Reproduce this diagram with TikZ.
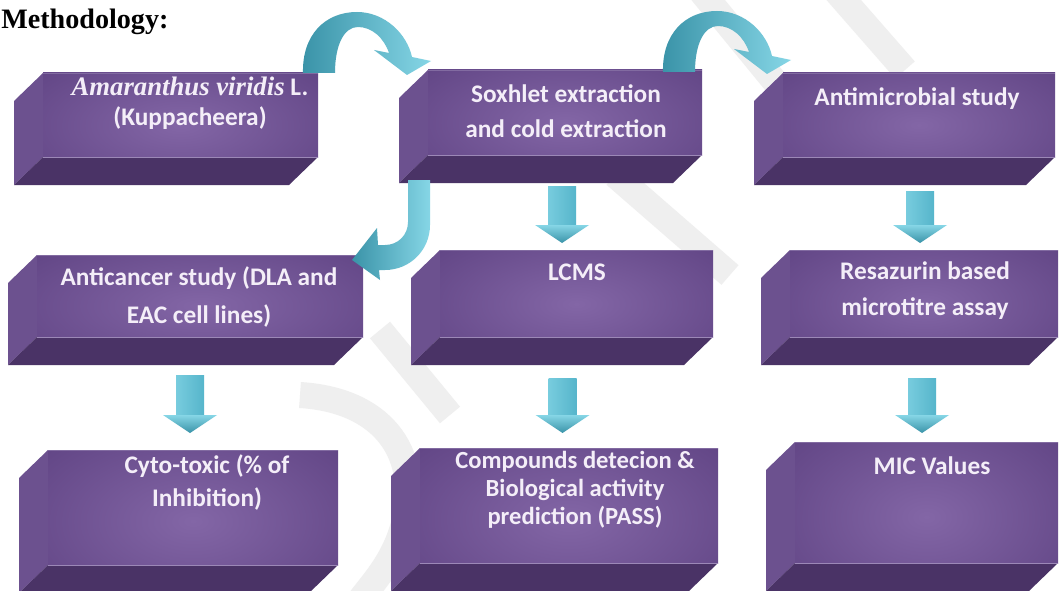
\documentclass[tikz,border=0pt]{standalone}
\usepackage{fontspec}
\setmainfont{Carlito}
\newfontfamily\serifface{Liberation Serif}
\usetikzlibrary{calc,fit}

% palette
\definecolor{facemid}{HTML}{5C4080}
\definecolor{facehi}{HTML}{8366A6}
\definecolor{leftside}{HTML}{6C518F}
\definecolor{bottomside}{HTML}{4A3366}
\definecolor{rimline}{HTML}{9C88B7}
\definecolor{arrlight}{HTML}{86D6E6}
\definecolor{arrmid}{HTML}{56B5CB}
\definecolor{arrdark}{HTML}{3A93A8}
\definecolor{labelwhite}{HTML}{F4EEF8}
\definecolor{markgrey}{HTML}{EFEFEF}

\tikzset{
  slabtext/.style={anchor=north, align=center, inner sep=0pt, text=labelwhite,
    font=\bfseries\fontsize{18}{#1}\selectfont},
  slabtext/.default=25,
  facefit/.style={inner sep=0pt, outer sep=0pt},
  arrowfill/.style={left color=arrdark, right color=arrlight},
  markband/.style={draw=markgrey, line width=0.65cm, line cap=butt},
}

% a bevelled slab: name, left, top, right, bottom of the front face
\newcommand\slab[5]{%
  \fill[leftside] (#2,#3) -- ++(-29,28) -- (#2-29,#5+28) -- (#2,#5) -- cycle;
  \fill[bottomside] (#2,#5) -- (#4,#5) -- (#4-29,#5+28) -- (#2-29,#5+28) -- cycle;
  \fill[facemid] (#2,#3) rectangle (#4,#5);
  \begin{scope}
    \clip (#2,#3) rectangle (#4,#5);
    \shade[inner color=facehi, outer color=facemid]
      ({(#2+#4)/2},{#3+0.62*(#5-#3)}) ellipse [x radius={0.8*(#4-#2)}, y radius={1.15*(#5-#3)}];
  \end{scope}
  \draw[rimline, line width=0.7pt] (#2,#5) -- (#4,#5);
  \draw[rimline!60!facemid, line width=0.5pt] (#2,#3) -- (#4,#3);
  \node[facefit, fit={(#2,#3) (#4,#5)}] (#1) {};
}

% straight block arrow pointing down: top coordinate, tip coordinate
\newcommand\droparrow[2]{%
  \shade[left color=arrlight!70!arrmid, middle color=arrlight, right color=arrmid]
    ($(#1)+(-14,0)$) rectangle ($(#2)+(14,-17)$);
  \shade[top color=arrlight, bottom color=arrdark]
    ($(#2)+(-27,-18)$) -- ($(#2)+(27,-18)$) -- (#2) -- cycle;
}

% arched block arrow hopping over to the next slab
\newcommand\hoparrow[1]{%
  \begin{scope}[shift={(#1)}]
    \shade[arrowfill]
      (303,73) .. controls (302,35) and (325,12) .. (357,12)
      .. controls (385,12) and (407,34) .. (412,57)
      -- (431,61) -- (407,75) -- (374,50) -- (389,53)
      .. controls (384,38) and (372,27) .. (358,27)
      .. controls (344,27) and (335,45) .. (335,73) -- cycle;
  \end{scope}
}

\begin{document}
\begin{tikzpicture}[x=0.025cm, y=-0.025cm]
\useasboundingbox (0,0) rectangle (1060,591);
\clip (0,0) rectangle (1060,591);
\fill[white] (0,0) rectangle (1060,591);

% faint watermark strokes behind the chart
\draw[markband] (700,-10) -- (790,100);
\draw[markband] (835,-10) -- (905,70);
\draw[markband] (615,175) -- (730,275);
\draw[markband] (380,330) -- (450,415);
\draw[markband] (300,395) .. controls (380,400) and (420,450) .. (405,520)
  .. controls (395,560) and (375,580) .. (360,600);

\node[anchor=base west, inner sep=0pt, font=\serifface\bfseries\fontsize{20}{24}\selectfont]
  (title) at (1,29) {Methodology:};

% slabs
\slab{ama}{43}{73}{318}{157}
\slab{sox}{428}{70}{702}{155}
\slab{anti}{783}{73}{1055}{157}
\slab{canc}{37}{255}{363}{337}
\slab{lcms}{440}{250}{713}{337}
\slab{resa}{790}{250}{1058}{337}
\slab{cyto}{48}{450}{338}{565}
\slab{comp}{420}{448}{718}{563}
\slab{mic}{795}{442}{1058}{563}

% labels
\node[slabtext=21.3] (ama-t) at (190,77)
  {{\serifface\itshape\bfseries\fontsize{19}{21.3}\selectfont Amaranthus viridis} L.\\(Kuppacheera)};
\node[slabtext=24.9] (sox-t) at (566,84) {Soxhlet extraction\\and cold extraction};
\node[slabtext] (anti-t) at (917,87) {Antimicrobial study};
\node[slabtext=27] (canc-t) at (199,266) {Anticancer study (DLA and\\EAC cell lines)};
\node[slabtext] (lcms-t) at (577,264) {LCMS};
\node[slabtext=25.6] (resa-t) at (925,261) {Resazurin based\\microtitre assay};
\node[slabtext=23.5] (cyto-t) at (207,454) {Cyto-toxic (\% of\\Inhibition)};
\node[slabtext=20, font=\bfseries\fontsize{17.5}{20}\selectfont] (comp-t) at (575,451)
  {Compounds detecion \&\\Biological activity\\prediction (PASS)};
\node[slabtext] (mic-t) at (932,456) {MIC Values};

% arched arrows along the top row
\hoparrow{0,0}
\hoparrow{360,-1}

% hooked arrow from the extraction slab to the anticancer slab
\coordinate (hookstart) at ($(sox.south west)+(2,25)$);
\shade[arrowfill]
  (hookstart) -- (430,225) .. controls (430,250) and (410,270) .. (385,270)
  -- (379,270) -- (380,280) -- (352,260) -- (377,228) -- (378,245) -- (385,245)
  .. controls (398,245) and (408,235) .. (408,222) -- (408,180) -- cycle;

% straight arrows down the columns
\coordinate (d1top) at ($(sox.south)+(-3,31)$);
\coordinate (d1tip) at ($(d1top |- lcms.north)+(0,-7)$);
\droparrow{d1top}{d1tip}
\coordinate (d2top) at ($(lcms.south)+(-14,41)$);
\coordinate (d2tip) at ($(d2top |- comp.north)+(0,-15)$);
\droparrow{d2top}{d2tip}
\coordinate (d3top) at ($(canc.south)+(-10,38)$);
\coordinate (d3tip) at ($(d3top |- cyto.north)+(0,-17)$);
\droparrow{d3top}{d3tip}
\coordinate (d4top) at ($(anti.south)+(1,34)$);
\coordinate (d4tip) at ($(d4top |- resa.north)+(0,-7)$);
\droparrow{d4top}{d4tip}
\coordinate (d5top) at ($(resa.south)+(-2,41)$);
\coordinate (d5tip) at ($(d5top |- mic.north)+(0,-9)$);
\droparrow{d5top}{d5tip}
\end{tikzpicture}
\end{document}
